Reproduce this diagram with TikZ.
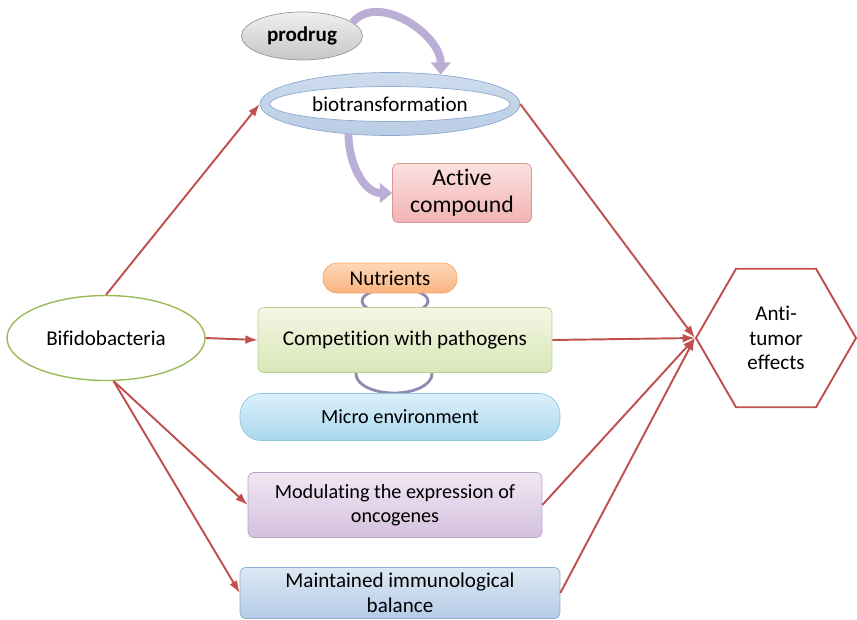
\documentclass[tikz,border=0pt]{standalone}
\usepackage{fontspec}
\setmainfont{Carlito}[Ligatures=NoCommon]
\usetikzlibrary{arrows.meta, positioning, shapes.geometric}
\definecolor{linkred}{HTML}{C0504D}
\definecolor{bendpurple}{HTML}{BAAED4}
\definecolor{loopgray}{HTML}{8E8AB0}
\definecolor{ringfill}{HTML}{B9CDE5}
\definecolor{ringedge}{HTML}{8EA9D0}
\definecolor{pinktop}{HTML}{FBE0E0}
\definecolor{pinkbot}{HTML}{F2B3B3}
\definecolor{pinkedge}{HTML}{D99694}
\definecolor{orangetop}{HTML}{FCD8BA}
\definecolor{orangebot}{HTML}{F9B47F}
\definecolor{orangeedge}{HTML}{F3A66C}
\definecolor{greentop}{HTML}{F3F7E4}
\definecolor{greenbot}{HTML}{D9E6B8}
\definecolor{greenedge}{HTML}{BCD08E}
\definecolor{skytop}{HTML}{DDF0FA}
\definecolor{skybot}{HTML}{A8D7EE}
\definecolor{skyedge}{HTML}{8CC7E0}
\definecolor{lilactop}{HTML}{F1E7F4}
\definecolor{lilacbot}{HTML}{D5C0DE}
\definecolor{lilacedge}{HTML}{B6A3C8}
\definecolor{steeltop}{HTML}{DDE8F4}
\definecolor{steelbot}{HTML}{B4CBE6}
\definecolor{steeledge}{HTML}{8EADD6}
\definecolor{leafedge}{HTML}{9BBB59}
\begin{document}
\begin{tikzpicture}[
    x=0.02cm, y=-0.02cm,
    font=\fontsize{12}{14}\selectfont,
    box/.style={draw, rounded corners=3pt, align=center, minimum width=5.88cm, minimum height=1.3cm},
    oval/.style={ellipse, draw, align=center, inner sep=1pt},
    arrow/.style={-{Latex[length=7pt,width=5pt]}, line width=1.1pt, linkred},
    curvearrow/.style={-{Triangle[width=11pt,length=7pt]}, line width=4.5pt, bendpurple},
    loopline/.style={line width=1.6pt, loopgray}
]
\useasboundingbox (0,0) rectangle (857,619);
\draw[loopline] (395,301) ellipse [x radius=0.66cm, y radius=0.26cm];
\draw[loopline] (394,374) ellipse [x radius=0.76cm, y radius=0.38cm];
\node[oval, draw=gray!80, top color=gray!12, bottom color=gray!45, minimum width=2.42cm, minimum height=0.96cm, font=\fontsize{12}{14}\selectfont\bfseries] (prodrug) at (302,36) {prodrug};
\node[ellipse, draw=ringedge, top color=ringfill!70, bottom color=ringfill, minimum width=5.2cm, minimum height=1.26cm] (bio) at (390,104) {};
\node[oval, draw=ringedge, fill=white, inner sep=0pt, minimum width=4.8cm, minimum height=0.7cm] (bioin) at (bio) {biotransformation};
\node[box, draw=pinkedge, top color=pinktop, bottom color=pinkbot, minimum width=2.78cm, minimum height=0.94cm, font=\fontsize{13.5}{15.5}\selectfont] (active) at (462,193) {Active\\compound};
\node[oval, draw=leafedge, line width=0.8pt, fill=white, minimum width=3.96cm, minimum height=1.7cm] (bifido) at (106,338) {Bifidobacteria};
\node[box, draw=orangeedge, top color=orangetop, bottom color=orangebot, rounded corners=8pt, minimum width=2.68cm, minimum height=0.6cm] (nutrients) at (390,278) {Nutrients};
\node[box, draw=greenedge, top color=greentop, bottom color=greenbot] (compete) at (405,340) {Competition with pathogens};
\node[box, draw=skyedge, top color=skytop, bottom color=skybot, rounded corners=12pt, minimum width=6.4cm, minimum height=0.94cm, font=\fontsize{11.5}{13.5}\selectfont] (micro) at (400,417) {Micro environment};
\node[box, draw=lilacedge, top color=lilactop, bottom color=lilacbot, font=\fontsize{11.5}{13.5}\selectfont] (modulate) at (395,505) {Modulating the expression of\\oncogenes};
\node[box, draw=steeledge, top color=steeltop, bottom color=steelbot, minimum width=6.4cm, minimum height=1.0cm] (balance) at (400,593) {Maintained immunological\\balance};
\node[regular polygon, regular polygon sides=6, draw=linkred, line width=1.1pt, fill=white, minimum size=3.2cm, align=center] (effects) at (776,338) {Anti-\\tumor\\effects};
\draw[curvearrow] (prodrug.15) to[out=50, in=90] (bio.30);
\draw[curvearrow] (bio.216) to[out=-90, in=180] (active.west);
\draw[arrow] (bifido.north) -- (bio.west);
\draw[arrow] (bifido.east) -- (compete.west);
\draw[arrow] (bifido.-80) -- (modulate.west);
\draw[arrow] (bifido.-80) -- (balance.west);
\draw[arrow] (bio.east) -- (effects.west);
\draw[arrow] (compete.east) -- (effects.west);
\draw[arrow] (modulate.east) -- (effects.west);
\draw[arrow] (balance.east) -- (effects.west);
\end{tikzpicture}
\end{document}
